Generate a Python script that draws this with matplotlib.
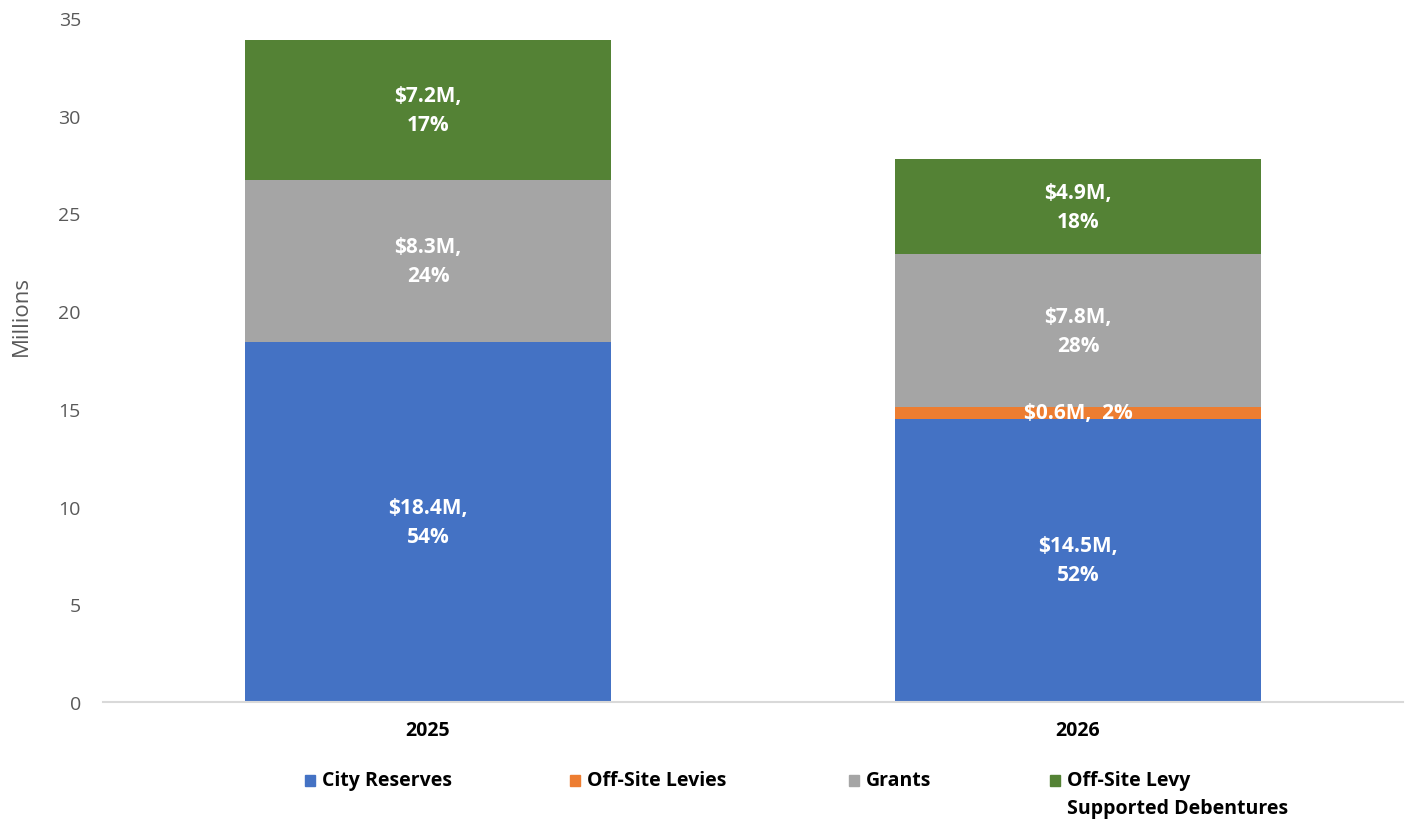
import numpy as np
import matplotlib.pyplot as plt
from matplotlib.patches import Rectangle

plt.rcParams['font.family'] = ['Open Sans', 'DejaVu Sans']

#------------------------------------------------------------
# Data (millions)
years = ['2025', '2026']
series = ['City Reserves', 'Off-Site Levies', 'Grants',
          'Off-Site Levy\nSupported Debentures']
city_reserves = [18.4, 14.5]
offsite_levies = [0.0, 0.6]
grants = [8.3, 7.8]
debentures = [7.2, 4.9]

labels = {
    'City Reserves': ['$18.4M,\n54%', '$14.5M,\n52%'],
    'Off-Site Levies': ['', '$0.6M,  2%'],
    'Grants': ['$8.3M,\n24%', '$7.8M,\n28%'],
    'Off-Site Levy\nSupported Debentures': ['$7.2M,\n17%', '$4.9M,\n18%'],
}
colors = ['#4472C4', '#ED7D31', '#A5A5A5', '#548235']

#------------------------------------------------------------
fig = plt.figure(figsize=(14.12, 8.2), dpi=100)
ax = fig.add_axes([0.073, 0.1427, 0.9206, 0.8341])

x = np.arange(len(years))
bottom = np.zeros(len(years))
for name, vals, col in zip(series,
                           [city_reserves, offsite_levies, grants, debentures],
                           colors):
    vals = np.array(vals)
    ax.bar(x, vals, width=0.563, bottom=bottom, color=col, zorder=2)
    for xi, b, v, lab in zip(x, bottom, vals, labels[name]):
        if lab:
            ax.text(xi, b + v / 2, lab.replace('$', r'\$'), ha='center',
                    va='center', color='white', fontsize=15,
                    fontweight='bold', linespacing=1.5, zorder=3)
    bottom += vals

ax.set_xlim(-0.5, 1.5)
ax.set_ylim(0, 35)
ax.set_yticks(range(0, 36, 5))
ax.set_xticks(x)
ax.set_xticklabels(years, fontsize=14, fontweight='bold')
ax.tick_params(axis='y', length=0, pad=16, labelsize=14, labelcolor='#595959')
ax.tick_params(axis='x', length=0, pad=13)
for s in ['top', 'right', 'left']:
    ax.spines[s].set_visible(False)
ax.spines['bottom'].set_color('#D9D9D9')
ax.spines['bottom'].set_linewidth(1.5)
ax.set_ylabel('Millions', fontsize=16, color='#595959')
ax.yaxis.set_label_coords(-0.055, 0.566)

#------------------------------------------------------------
# Legend, drawn by hand to follow the Excel layout
W, H = 1412.0, 820.0
leg_x = [305, 570, 849, 1050]
for lx, name, col in zip(leg_x, series, colors):
    fig.patches.append(Rectangle((lx / W, (H - 787) / H), 10 / W, 11 / H,
                                 transform=fig.transFigure, color=col))
    fig.text((lx + 17) / W, (H - 771) / H, name, ha='left', va='top',
             fontsize=14, fontweight='bold', linespacing=1.55,
             transform=fig.transFigure)

fig.savefig('out.png', dpi=100)
